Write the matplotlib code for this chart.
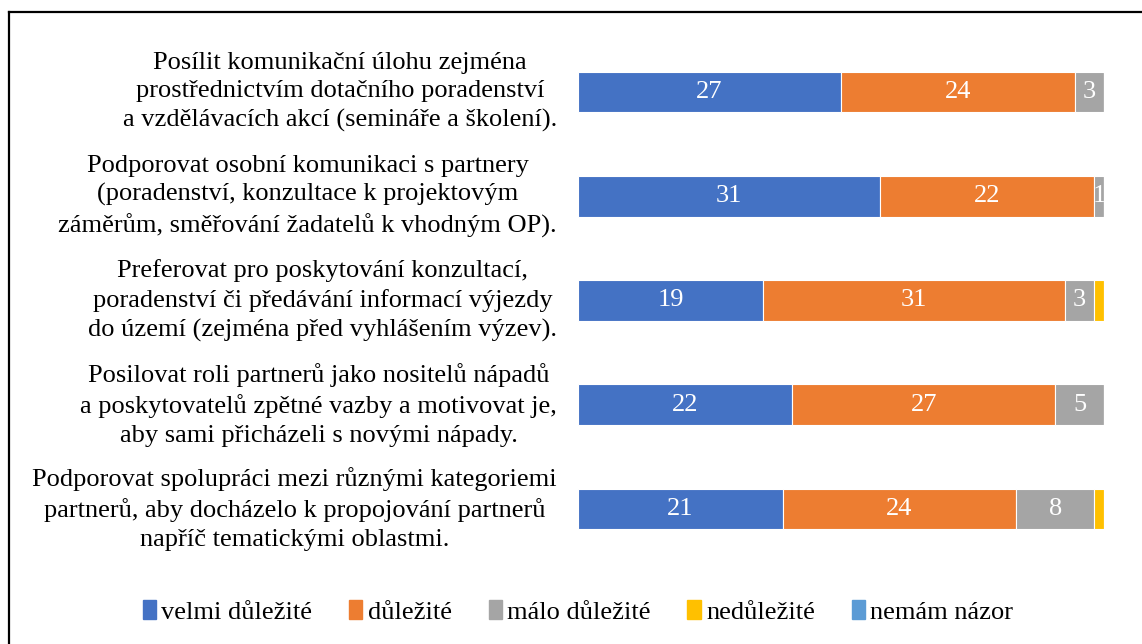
import matplotlib
matplotlib.use("Agg")
import matplotlib.pyplot as plt
from matplotlib.lines import Line2D
import numpy as np

plt.rcParams['font.family'] = ['Liberation Serif', 'DejaVu Serif']

categories = [
    "Posílit komunikační úlohu zejména\nprostřednictvím dotačního poradenství\na vzdělávacích akcí (semináře a školení).",
    "Podporovat osobní komunikaci s partnery\n(poradenství, konzultace k projektovým\nzáměrům, směřování žadatelů k vhodným OP).",
    "Preferovat pro poskytování konzultací,\nporadenství či předávání informací výjezdy\ndo území (zejména před vyhlášením výzev).",
    "Posilovat roli partnerů jako nositelů nápadů\na poskytovatelů zpětné vazby a motivovat je,\naby sami přicházeli s novými nápady.",
    "Podporovat spolupráci mezi různými kategoriemi\npartnerů, aby docházelo k propojování partnerů\nnapříč tematickými oblastmi.",
]
series_names = ["velmi důležité", "důležité", "málo důležité", "nedůležité", "nemám názor"]
velmi_dulezite = [27, 31, 19, 22, 21]
dulezite = [24, 22, 31, 27, 24]
malo_dulezite = [3, 1, 3, 5, 8]
nedulezite = [0, 0, 1, 0, 1]
nemam_nazor = [0, 0, 0, 0, 0]
series = [velmi_dulezite, dulezite, malo_dulezite, nedulezite, nemam_nazor]
colors = ["#4472C4", "#ED7D31", "#A5A5A5", "#FFC000", "#5B9BD5"]
labeled = [True, True, True, False, False]

fig = plt.figure(figsize=(11.42, 6.44), dpi=100)
ax = fig.add_axes([578/1142, 1-561/644, 526/1142, 521/644])

y = np.arange(len(categories))
left = np.zeros(len(categories))
fs = 19
for vals, col, name, lab in zip(series, colors, series_names, labeled):
    vals = np.array(vals, dtype=float)
    bars = ax.barh(y, vals, left=left, height=0.39, color=col, label=name,
                   edgecolor="white", linewidth=0.8)
    if lab:
        for b, v in zip(bars, vals):
            if v > 0:
                ax.text(b.get_x() + b.get_width()/2, b.get_y() + b.get_height()/2,
                        f"{int(v)}", ha="center", va="center", color="white", fontsize=fs)
    left += vals

ax.set_xlim(0, 54)
ax.set_ylim(4.5, -0.5)
ax.axis("off")

for yi, cat in zip(y, categories):
    ax.text(-21/526*54, yi, cat, ha="right", va="center", multialignment="center",
            fontsize=fs, linespacing=1.38, color="black")

handles = [plt.Rectangle((0, 0), 1, 1, color=c) for c in colors]
fig.legend(handles, series_names, loc="center", bbox_to_anchor=(578/1142, 1-612/644),
           ncol=5, frameon=False, fontsize=fs, handlelength=0.5, handleheight=0.75,
           handletextpad=0.2, columnspacing=1.4)

x0 = 9/1142
y0 = 1-12/644
fig.add_artist(Line2D([x0, x0], [0, y0], color="black", linewidth=1.6, transform=fig.transFigure))
fig.add_artist(Line2D([x0, 1], [y0, y0], color="black", linewidth=1.6, transform=fig.transFigure))

fig.savefig("out.png", dpi=100, facecolor="white")
